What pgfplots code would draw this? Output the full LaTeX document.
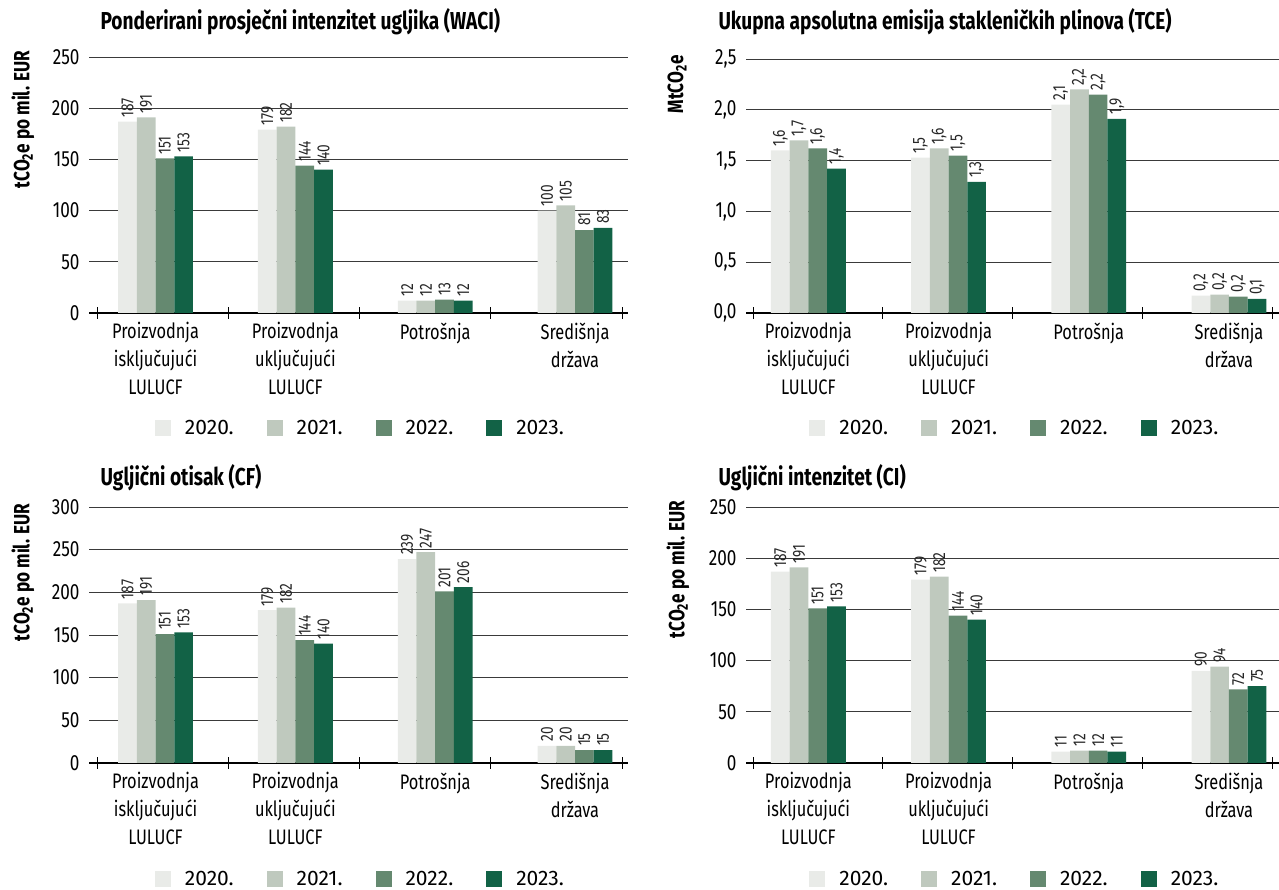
\documentclass[border=0pt]{standalone}
\usepackage{pgfplots}
\pgfplotsset{compat=1.18}
\usepackage{pgfplotstable}
\usepackage{fontspec}
\setmainfont{Fira Sans}[FakeStretch=0.78]
\newfontfamily\legfont{Fira Sans}
\definecolor{cA}{HTML}{E9EBE8}
\definecolor{cB}{HTML}{BFC9BE}
\definecolor{cC}{HTML}{658970}
\definecolor{cD}{HTML}{126246}
\definecolor{gridc}{HTML}{3A3A3A}

\pgfplotstableread{
x a b c d la lb lc ld
0 187 191 151 153 187 191 151 153
1 179 182 144 140 179 182 144 140
2 12 12 13 12 12 12 13 12
3 100 105 81 83 100 105 81 83
}\waci
\pgfplotstableread{
x a b c d la lb lc ld
0 1.60 1.70 1.62 1.42 1,6 1,7 1,6 1,4
1 1.53 1.62 1.55 1.29 1,5 1,6 1,5 1,3
2 2.05 2.20 2.15 1.91 2,1 2,2 2,2 1,9
3 0.17 0.18 0.16 0.14 0,2 0,2 0,2 0,1
}\tce
\pgfplotstableread{
x a b c d la lb lc ld
0 187 191 151 153 187 191 151 153
1 179 182 144 140 179 182 144 140
2 239 247 201 206 239 247 201 206
3 20 20 15 15 20 20 15 15
}\cf
\pgfplotstableread{
x a b c d la lb lc ld
0 187 191 151 153 187 191 151 153
1 179 182 144 140 179 182 144 140
2 11 12 12 11 11 12 12 11
3 90 94 72 75 90 94 72 75
}\ci

\pgfplotsset{
  mybars/.style={
    scale only axis, ybar=0pt, bar width=18.7pt,
    ymin=0,
    axis x line*=bottom, axis y line*=left,
    y axis line style={draw=none},
    ytick style={draw=none},
    ymajorgrids, grid style={gridc, line width=0.8pt},
    x axis line style={black, line width=1.1pt, -},
    xtick style={black, line width=0.9pt},
    major tick length=12pt, tick align=center,
    xticklabels={},
    extra x ticks={0,1,2,3},
    extra x tick labels={{Proizvodnja\\isključujući\\LULUCF},{Proizvodnja\\uključujući\\LULUCF},{Potrošnja},{Središnja\\država}},
    extra x tick style={major tick length=0pt, tick label style={align=center, font=\fontsize{21}{28}\selectfont, anchor=north, yshift=-6pt}},
    yticklabel style={font=\fontsize{22}{22}\selectfont, /pgf/number format/assume math mode=true},
    nodes near coords, point meta=explicit symbolic,
    nodes near coords style={rotate=90, anchor=west, font=\fontsize{17.5}{17.5}\selectfont, text=black!85, inner sep=4pt},
    legend columns=4,
    legend image code/.code={\fill[##1] (0pt,-8pt) rectangle (16pt,8pt);},
    legend style={draw=none, fill=none, inner sep=0pt, outer sep=0pt, anchor=west,
      font=\legfont\fontsize{21}{21}\selectfont,
      /tikz/every odd column/.style={column sep=12pt},
      /tikz/every even column/.style={column sep=31pt}},
  },
  sA/.style={fill=cA, draw=none},
  sB/.style={fill=cB, draw=none},
  sC/.style={fill=cC, draw=none},
  sD/.style={fill=cD, draw=none},
  leftx/.style={xmin=-0.476, xmax=3.379, width=539pt, xtick={-0.419,0.520,1.458,2.397,3.336}},
  rightx/.style={xmin=-0.445, xmax=3.357, width=533pt, xtick={-0.395,0.530,1.456,2.381,3.307}},
}

\newcommand{\fourbars}[1]{%
  \addplot[sA] table[x=x,y=a,meta=la]{#1};
  \addplot[sB] table[x=x,y=b,meta=lb]{#1};
  \addplot[sC] table[x=x,y=c,meta=lc]{#1};
  \addplot[sD] table[x=x,y=d,meta=ld]{#1};
  \legend{2020.,2021.,2022.,2023.}
}

\begin{document}
\begin{tikzpicture}[x=1pt,y=1pt]
\path[use as bounding box] (0,0) rectangle (1279,890);

% top-left
\begin{axis}[mybars, leftx, at={(89pt,577pt)}, anchor=south west,
  height=256pt, ymax=250, ytick={0,50,...,250},
  legend style={at={(rel axis cs:0.1224,-0.449)}}]
\fourbars{\waci}
\end{axis}

% top-right
\begin{axis}[mybars, rightx, at={(746pt,577pt)}, anchor=south west,
  height=254pt, ymax=2.5, ytick={0,0.5,...,2.5},
  yticklabel style={/pgf/number format/.cd, fixed, fixed zerofill, precision=1, use comma},
  legend style={at={(rel axis cs:0.119,-0.453)}}]
\fourbars{\tce}
\end{axis}

% bottom-left
\begin{axis}[mybars, leftx, at={(89pt,127pt)}, anchor=south west,
  height=256pt, ymax=300, ytick={0,50,...,300},
  legend style={at={(rel axis cs:0.1224,-0.453)}}]
\fourbars{\cf}
\end{axis}

% bottom-right
\begin{axis}[mybars, rightx, at={(746pt,127pt)}, anchor=south west,
  height=256pt, ymax=250, ytick={0,50,...,250},
  legend style={at={(rel axis cs:0.119,-0.453)}}]
\fourbars{\ci}
\end{axis}

% titles
\node[anchor=base west, font=\bfseries\fontsize{24.5}{24.5}\selectfont] at (97,860) {Ponderirani prosječni intenzitet ugljika (WACI)};
\node[anchor=base west, font=\bfseries\fontsize{24.5}{24.5}\selectfont] at (715,860) {Ukupna apsolutna emisija stakleničkih plinova (TCE)};
\node[anchor=base west, font=\bfseries\fontsize{24.5}{24.5}\selectfont] at (97,404) {Ugljični otisak (CF)};
\node[anchor=base west, font=\bfseries\fontsize{24.5}{24.5}\selectfont] at (715,404) {Ugljični intenzitet (CI)};

% y labels
\node[rotate=90, anchor=east, font=\bfseries\fontsize{22}{22}\selectfont] at (23,843) {tCO\textsubscript{2}e po mil. EUR};
\node[rotate=90, anchor=east, font=\bfseries\fontsize{22}{22}\selectfont] at (677,838) {MtCO\textsubscript{2}e};
\node[rotate=90, anchor=east, font=\bfseries\fontsize{22}{22}\selectfont] at (23,390) {tCO\textsubscript{2}e po mil. EUR};
\node[rotate=90, anchor=east, font=\bfseries\fontsize{22}{22}\selectfont] at (678,393) {tCO\textsubscript{2}e po mil. EUR};
\end{tikzpicture}
\end{document}
